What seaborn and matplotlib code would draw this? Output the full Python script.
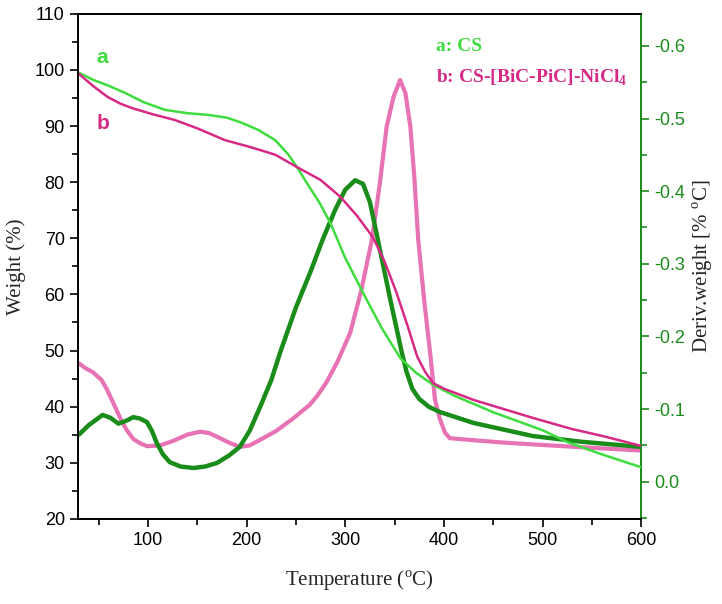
import numpy as np
import pandas as pd
import seaborn as sns
from matplotlib import pyplot as plt
from matplotlib.ticker import MultipleLocator

sns.set_style("ticks")
plt.rcParams['font.family'] = ['Liberation Sans', 'DejaVu Sans']

# TG curves (weight %)
tg_temp_a = [30, 45, 60, 77, 95, 117, 140, 161, 180, 195, 212, 229, 242, 251, 262, 274, 285, 300,
             318, 337, 356, 372, 389, 410, 450, 500, 525, 560, 600]
tg_weight_a = [99.5, 98.2, 97.2, 95.9, 94.3, 92.9, 92.3, 92.0, 91.5, 90.6, 89.3, 87.5, 85.0, 82.7,
               79.6, 76.3, 72.7, 66.5, 60.3, 54.0, 48.6, 46.0, 43.9, 42.0, 39.0, 35.8, 33.7, 31.5,
               29.2]
tg_temp_b = [30, 44, 59, 72, 84, 105, 127, 150, 178, 205, 229, 251, 275, 295, 312, 328, 340, 352,
             363, 373, 381, 389, 400, 430, 460, 490, 530, 560, 600]
tg_weight_b = [99.3, 97.2, 95.2, 94.0, 93.2, 92.1, 91.1, 89.6, 87.5, 86.2, 84.9, 82.7, 80.4, 77.4,
               74.0, 70.2, 65.8, 60.3, 54.5, 48.9, 46.2, 44.2, 43.2, 41.2, 39.6, 38.0, 36.0, 34.8,
               33.0]

# DTG curves (deriv. weight, % / °C)
dtg_temp_a = [30, 40, 54, 62, 70, 78, 85, 92, 99, 104, 109, 115, 122, 133, 146, 158, 170, 182,
              193, 203, 214, 225, 234, 250, 265, 277, 290, 300, 310, 318, 325, 332, 345, 357,
              362, 368, 375, 385, 396, 430, 490, 540, 600]
dtg_val_a = [-0.065, -0.078, -0.092, -0.088, -0.080, -0.084, -0.089, -0.087, -0.082, -0.070,
             -0.053, -0.038, -0.027, -0.021, -0.019, -0.021, -0.026, -0.036, -0.048, -0.070,
             -0.104, -0.140, -0.178, -0.240, -0.290, -0.333, -0.375, -0.402, -0.415, -0.410,
             -0.385, -0.340, -0.255, -0.180, -0.152, -0.128, -0.114, -0.103, -0.096, -0.081,
             -0.063, -0.055, -0.048]
dtg_temp_b = [30, 37, 44, 48, 53, 58, 65, 72, 78, 85, 92, 99, 112, 125, 140, 153, 162, 170, 182,
              193, 203, 214, 230, 247, 264, 272, 281, 292, 305, 316, 327, 335, 342, 349, 355.6,
              361, 366, 370, 374, 380, 386, 391, 396, 401, 406, 423, 460, 508, 560, 600]
dtg_val_b = [-0.163, -0.156, -0.151, -0.146, -0.140, -0.128, -0.108, -0.087, -0.072, -0.059,
             -0.053, -0.049, -0.050, -0.056, -0.065, -0.069, -0.067, -0.062, -0.054, -0.048,
             -0.050, -0.058, -0.070, -0.087, -0.106, -0.119, -0.137, -0.165, -0.205, -0.262,
             -0.333, -0.410, -0.489, -0.530, -0.553, -0.535, -0.489, -0.420, -0.333, -0.250,
             -0.178, -0.113, -0.086, -0.068, -0.060, -0.058, -0.054, -0.050, -0.046, -0.043]

light_green = '#3fdc3f'
dark_green = '#1a8c1a'
magenta = '#d62a86'
pink = '#e35aa8'

fig = plt.figure(figsize=(7.22, 6.04), dpi=100)
ax = fig.add_axes([0.108, 0.141, 0.78, 0.836])
ax2 = ax.twinx()

sns.lineplot(x=dtg_temp_b, y=dtg_val_b, ax=ax2, color=pink, linewidth=3, alpha=0.85)
sns.lineplot(x=dtg_temp_a, y=dtg_val_a, ax=ax2, color=dark_green, linewidth=3.2)
sns.lineplot(x=tg_temp_a, y=tg_weight_a, ax=ax, color=light_green, linewidth=1.8)
sns.lineplot(x=tg_temp_b, y=tg_weight_b, ax=ax, color=magenta, linewidth=1.8)
ax.set_zorder(ax2.get_zorder() + 1)
ax.patch.set_visible(False)

ax.set_xlim(29, 600)
ax.set_ylim(20, 110)
ax2.set_ylim(0.051, -0.644)

ax.xaxis.set_major_locator(MultipleLocator(100))
ax.xaxis.set_minor_locator(MultipleLocator(50))
ax.yaxis.set_major_locator(MultipleLocator(10))
ax.yaxis.set_minor_locator(MultipleLocator(5))
ax2.yaxis.set_major_locator(MultipleLocator(0.1))
ax2.yaxis.set_minor_locator(MultipleLocator(0.05))
ax2.yaxis.set_major_formatter(lambda v, p: f'{v:.1f}'.replace('-0.0', '0.0'))

ax.tick_params(which='both', direction='out', labelsize=13, colors='black')
ax.tick_params(which='major', length=6, width=1.2)
ax.tick_params(which='minor', length=4, width=1.2)
ax2.tick_params(which='both', direction='out', labelsize=13, colors=dark_green)
ax2.tick_params(which='major', length=6, width=1.2)
ax2.tick_params(which='minor', length=4, width=1.2)
for s in ['left', 'top', 'bottom']:
    ax.spines[s].set_linewidth(1.4)
    ax.spines[s].set_color('black')
ax.spines['right'].set_visible(False)
ax2.spines['right'].set_color(dark_green)
ax2.spines['right'].set_linewidth(1.4)
for s in ['left', 'top', 'bottom']:
    ax2.spines[s].set_visible(False)

serif = ['Liberation Serif', 'DejaVu Serif']
ax.set_xlabel('Temperature ($^\\mathregular{o}$C)', family=serif, fontsize=15, labelpad=14)
ax.set_ylabel('Weight (%)', family=serif, fontsize=15, labelpad=6)
ax2.set_ylabel('Deriv.weight [% $^\\mathregular{o}$C]', family=serif, fontsize=15, labelpad=4)

ax.text(54, 102.3, 'a', color=light_green, fontsize=15, fontweight='bold', ha='center', va='center')
ax.text(54, 90.4, 'b', color=magenta, fontsize=15, fontweight='bold', ha='center', va='center')
ax.text(392, 104.2, 'a: CS', color=light_green, fontsize=14, fontweight='bold', family=serif,
        va='center')
ax.text(392, 98.6, 'b: CS-[BiC-PiC]-NiCl$_\\mathregular{4}$', color=magenta, fontsize=14,
        fontweight='bold', family=serif, va='center')

plt.savefig('out.png', dpi=100)
